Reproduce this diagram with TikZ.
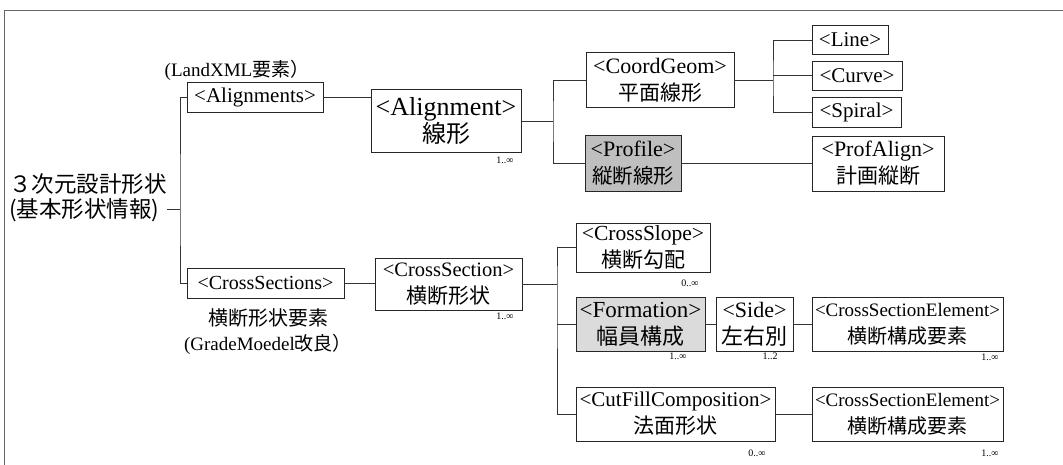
\documentclass[tikz,border=0pt]{standalone}
\usepackage{fontspec}
\setmainfont{Liberation Serif}
\newfontfamily\jp{Noto Sans CJK JP}
\newcommand{\fs}[1]{\fontsize{#1}{27}\selectfont}
\newcommand{\kj}[2]{{\jp\fontsize{#1}{27}\selectfont #2}}
\begin{document}
\begin{tikzpicture}[x=1pt,y=-1pt,
  box/.style={draw=black!85,line width=0.9pt,inner sep=0pt,align=center,
    font=\fs{21}},
  shaded/.style={box,fill=black!25},
  conn/.style={draw=black!80,line width=0.8pt},
  mult/.style={font=\fontsize{10}{10}\selectfont,inner sep=0pt},
  lbl/.style={align=center,inner sep=0pt}]
\useasboundingbox (0,0) rectangle (1063,465);
% frame
\draw[black!60,line width=0.8pt] (4,465) -- (4,10) -- (1063,10);
% root
\node[lbl,anchor=west,align=left,font=\jp\fontsize{22.5}{25}\selectfont] (root) at (9,198) {３次元設計形状\\(基本形状情報)};
\node[lbl,font=\fontsize{19}{22}\selectfont] (lxml) at (237,70) {(LandXML{\jp 要素）}};
% top branch
\node[box,minimum width=136,minimum height=30] (aligns) at (255,97) {<Alignments>};
\node[box,minimum width=150,minimum height=63,font=\fs{26}] (align) at (446,121) {<Alignment>\\\kj{24}{線形}};
\node[mult] (m1) at (505,160) {1..∞};
\node[box,minimum width=148,minimum height=55,font=\fs{22}] (coord) at (660,80) {<CoordGeom>\\\kj{21}{平面線形}};
\node[box,minimum width=76,minimum height=29] (line) at (850,40) {<Line>};
\node[box,minimum width=90,minimum height=29] (curve) at (857,75.5) {<Curve>};
\node[box,minimum width=89,minimum height=30] (spiral) at (856.5,112) {<Spiral>};
\node[shaded,minimum width=96,minimum height=56,font=\fs{22}] (prof) at (633,163) {<Profile>\\\kj{20.5}{縦断線形}};
\node[box,minimum width=132,minimum height=55,font=\fs{22}] (palign) at (878,163.5) {<ProfAlign>\\\kj{21}{計画縦断}};
% bottom branch
\node[box,minimum width=157,minimum height=30,font=\fs{20}] (csecs) at (265.5,283) {<CrossSections>};
\node[lbl,font=\fontsize{19}{25}\selectfont] (cslbl) at (268,332) {\kj{20}{横断形状要素}\\(GradeMoedel{\jp 改良）}};
\node[box,minimum width=147,minimum height=52,font=\fs{20.5}] (csec) at (448.5,284) {<CrossSection>\\\kj{21}{横断形状}};
\node[mult] (m2) at (505,316) {1..∞};
\node[box,minimum width=134,minimum height=49,font=\fs{21.5}] (slope) at (643,247.5) {<CrossSlope>\\\kj{21}{横断勾配}};
\node[mult] (m3) at (690,283) {0..∞};
\node[shaded,fill=black!14,minimum width=129,minimum height=54,font=\fs{23}] (form) at (640.5,324) {<Formation>\\\kj{22}{幅員構成}};
\node[mult] (m4) at (678,356) {1..∞};
\node[box,minimum width=77,minimum height=54,font=\fs{22}] (side) at (754.5,324) {<Side>\\\kj{22}{左右別}};
\node[mult] (m5) at (770,356) {1..2};
\node[box,minimum width=191,minimum height=54,font=\fs{19}] (cse1) at (907.5,324) {<CrossSectionElement>\\\kj{20}{横断構成要素}};
\node[mult] (m6) at (990,357) {1..∞};
\node[box,minimum width=199,minimum height=54] (cutfill) at (675.5,414) {<CutFillComposition>\\\kj{21}{法面形状}};
\node[mult] (m7) at (757,453) {0..∞};
\node[box,minimum width=191,minimum height=54,font=\fs{19}] (cse2) at (907.5,414) {<CrossSectionElement>\\\kj{20}{横断構成要素}};
\node[mult] (m8) at (990,453) {1..∞};
% trunk coordinates
\coordinate (T1) at (180,209);
\coordinate (T2) at (553,121);
\coordinate (T3) at (773,80);
\coordinate (T4) at (557,284);
% connectors
\draw[conn] (root.east |- T1) -- (T1);
\draw[conn] (aligns.west) -| (T1) |- (csecs.west);
\draw[conn] (aligns.east) -- (aligns.east -| align.west);
\draw[conn] (align.east) -- (T2);
\draw[conn] (coord.west) -| (T2) |- (prof.west);
\draw[conn] (coord.east) -- (T3);
\draw[conn] (line.west) -| (T3) |- (spiral.west);
\draw[conn] (curve.west) -- (curve.west -| T3);
\draw[conn] (prof.east) -- (prof.east -| palign.west);
\draw[conn] (csecs.east) -- (csecs.east -| csec.west);
\draw[conn] (csec.east) -- (T4);
\draw[conn] (slope.west) -| (T4) |- (cutfill.west);
\draw[conn] (form.west) -- (form.west -| T4);
\draw[conn] (form.east) -- (side.west);
\draw[conn] (side.east) -- (cse1.west);
\draw[conn] (cutfill.east) -- (cse2.west);
\end{tikzpicture}
\end{document}
